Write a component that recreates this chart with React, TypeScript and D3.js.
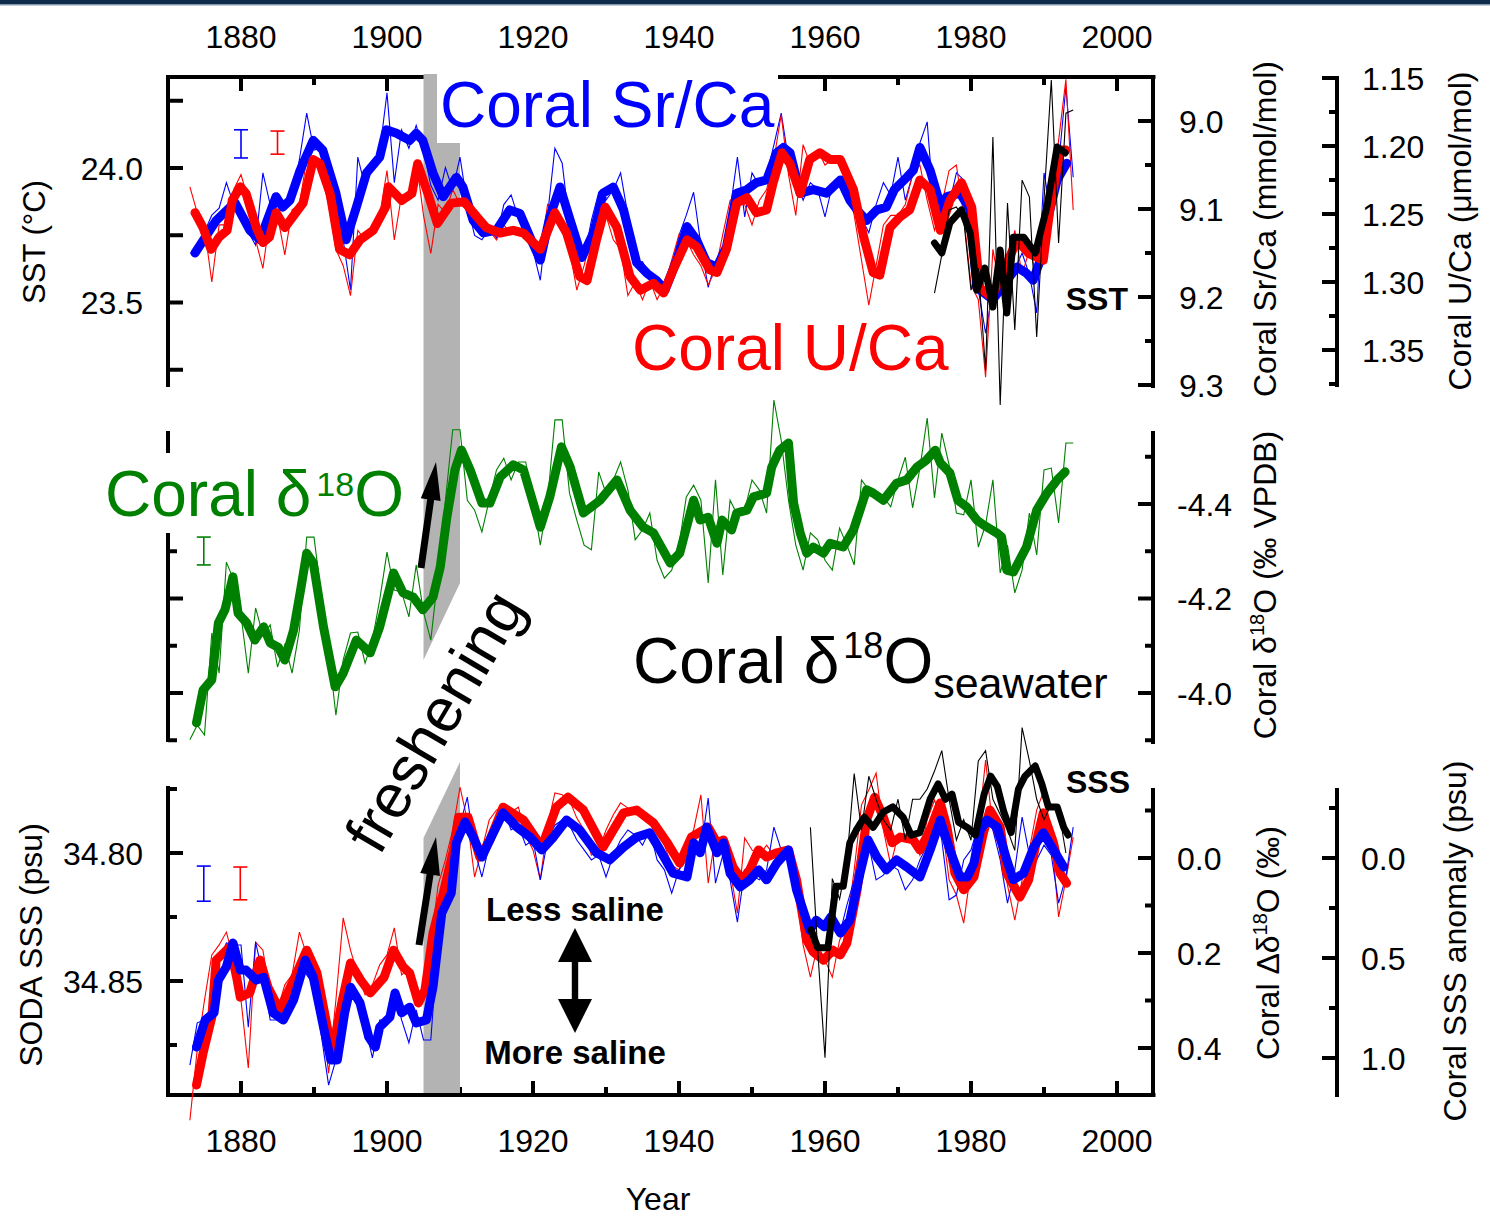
import React from "react";
import * as d3 from "d3";

const FONT = "'Liberation Sans', Arial, Helvetica, sans-serif";
const BLUE = "#0000ff";
const RED = "#ff0000";
const GREEN = "#008000";
const GRAY = "#b3b3b3";

// ---------------- tick values ----------------
const yearLabels = [1880, 1900, 1920, 1940, 1960, 1980, 2000];
const yearMinor = [1890, 1910, 1930, 1950, 1970, 1990];
const sstMajor = [24.0, 23.5];
const sstMinor = [24.25, 23.75, 23.25];
const srcaMajor = [9.0, 9.1, 9.2, 9.3];
const srcaMinor = [9.05, 9.15, 9.25];
const ucaMajor = [1.15, 1.2, 1.25, 1.3, 1.35];
const ucaMinor = [1.175, 1.225, 1.275, 1.325, 1.375];
const d18oMajor = [-4.4, -4.2, -4.0];
const d18oMinor = [-4.5, -4.3, -4.1, -3.9];
const d18oLeftMajor = [-4.2, -4.0];
const d18oLeftMinor = [-4.3, -4.1, -3.9];
const sodaMajor = [34.8, 34.85];
const sodaMinor = [34.775, 34.825, 34.875];
const dd18oMajor = [0.0, 0.2, 0.4];
const dd18oMinor = [-0.1, 0.1, 0.3];
const sssaMajor = [0.0, 0.5, 1.0];
const sssaMinor = [-0.25, 0.25, 0.75];

// ---------------- annual (thin) series ----------------
const THIN_START = 1873;
const srcaThin = [
  9.150, 9.150, 9.126, 9.107, 9.099, 9.070, 9.095, 9.110, 9.126, 9.141,
  9.059, 9.095, 9.082, 9.101, 9.084, 9.044, 8.991, 9.033, 9.031, 9.065,
  9.101, 9.135, 9.192, 9.041, 9.075, 9.047, 9.035, 8.968, 9.070, 9.010,
  9.031, 9.005, 9.033, 9.073, 9.090, 9.053, 9.078, 9.041, 9.095, 9.130,
  9.135, 9.122, 9.133, 9.095, 9.084, 9.110, 9.122, 9.147, 9.181, 9.107,
  9.031, 9.048, 9.118, 9.156, 9.156, 9.113, 9.081, 9.090, 9.078, 9.059,
  9.107, 9.164, 9.160, 9.175, 9.186, 9.195, 9.169, 9.130, 9.107, 9.081,
  9.141, 9.189, 9.160, 9.152, 9.101, 9.041, 9.109, 9.059, 9.073, 9.061,
  9.027, 8.991, 9.044, 9.067, 9.090, 9.070, 9.078, 9.109, 9.073, 9.067,
  9.078, 9.095, 9.110, 9.127, 9.095, 9.070, 9.084, 9.041, 9.090, 9.061,
  9.025, 9.001, 9.109, 9.084, 9.095, 9.059, 9.067, 9.107, 9.192, 9.241,
  9.192, 9.198, 9.186, 9.169, 9.150, 9.175, 9.218, 9.059, 9.107, 9.050,
  8.961, 9.064,
];
const ucaThin = [
  1.230, 1.249, 1.260, 1.300, 1.258, 1.258, 1.232, 1.221, 1.240, 1.269,
  1.290, 1.251, 1.251, 1.280, 1.247, 1.243, 1.210, 1.210, 1.221, 1.243,
  1.276, 1.288, 1.310, 1.262, 1.269, 1.258, 1.251, 1.218, 1.269, 1.236,
  1.240, 1.210, 1.251, 1.279, 1.243, 1.249, 1.232, 1.243, 1.247, 1.254,
  1.260, 1.262, 1.269, 1.258, 1.265, 1.260, 1.269, 1.276, 1.280, 1.243,
  1.246, 1.258, 1.276, 1.306, 1.288, 1.265, 1.240, 1.251, 1.269, 1.276,
  1.310, 1.300, 1.313, 1.299, 1.313, 1.302, 1.284, 1.265, 1.269, 1.280,
  1.288, 1.302, 1.291, 1.265, 1.240, 1.236, 1.243, 1.258, 1.240, 1.232,
  1.210, 1.177, 1.221, 1.251, 1.199, 1.214, 1.203, 1.214, 1.210, 1.214,
  1.229, 1.251, 1.284, 1.317, 1.288, 1.258, 1.251, 1.251, 1.243, 1.221,
  1.214, 1.240, 1.262, 1.243, 1.218, 1.214, 1.251, 1.302, 1.313, 1.370,
  1.276, 1.306, 1.291, 1.262, 1.295, 1.276, 1.295, 1.269, 1.240, 1.196,
  1.151, 1.247,
];
const SST_THIN_START = 1975;
const sstThin = [
  23.535, 23.677, 23.844, 23.855, 23.807, 23.546, 23.628, 23.249, 24.115, 23.119,
  23.870, 23.398, 23.955, 23.892, 23.372, 23.881, 24.327, 23.721, 24.204, 24.216,
];
const d18oThin = [
  -3.901, -3.932, -3.911, -4.127, -4.042, -4.277, -4.239, -4.165, -4.042, -4.180,
  -4.123, -4.144, -4.055, -4.102, -4.042, -4.133, -4.330, -4.330, -4.207, -4.091,
  -3.953, -4.070, -4.127, -4.129, -4.063, -4.112, -4.197, -4.298, -4.218, -4.214,
  -4.161, -4.271, -4.171, -4.112, -4.250, -4.408, -4.557, -4.557, -4.408, -4.387,
  -4.341, -4.408, -4.472, -4.497, -4.451, -4.489, -4.489, -4.408, -4.313, -4.408,
  -4.578, -4.578, -4.423, -4.366, -4.313, -4.303, -4.468, -4.423, -4.451, -4.489,
  -4.430, -4.324, -4.345, -4.381, -4.281, -4.243, -4.260, -4.313, -4.415, -4.440,
  -4.408, -4.233, -4.451, -4.250, -4.408, -4.377, -4.387, -4.451, -4.430, -4.381,
  -4.620, -4.535, -4.408, -4.313, -4.260, -4.339, -4.324, -4.281, -4.260, -4.349,
  -4.313, -4.271, -4.451, -4.430, -4.415, -4.415, -4.394, -4.451, -4.499, -4.392,
  -4.476, -4.582, -4.413, -4.550, -4.483, -4.381, -4.377, -4.451, -4.309, -4.356,
  -4.451, -4.254, -4.313, -4.212, -4.260, -4.381, -4.292, -4.472, -4.476, -4.360,
  -4.529, -4.529,
];
const dd18oSrThin = [
  0.436, 0.347, 0.341, 0.320, 0.215, 0.179, 0.183, 0.183, 0.356, 0.177,
  0.246, 0.341, 0.341, 0.341, 0.288, 0.215, 0.246, 0.267, 0.373, 0.478,
  0.425, 0.278, 0.288, 0.299, 0.352, 0.421, 0.341, 0.341, 0.278, 0.341,
  0.389, 0.320, 0.383, 0.383, 0.173, 0.046, 0.004, -0.069, -0.128, -0.017,
  0.040, -0.027, -0.091, -0.101, -0.059, -0.069, -0.027, -0.038, 0.046, -0.038,
  -0.069, -0.080, -0.069, -0.038, -0.017, 0.004, -0.006, 0.040, -0.006, -0.038,
  -0.059, -0.048, -0.027, -0.059, 0.004, 0.025, 0.074, 0.025, 0.004, -0.027,
  -0.017, -0.126, 0.053, -0.006, 0.046, 0.135, 0.025, 0.036, 0.046, 0.025,
  -0.065, -0.017, -0.006, 0.078, 0.099, 0.173, 0.131, 0.141, 0.099, 0.162,
  0.099, 0.046, -0.048, -0.027, 0.046, 0.036, 0.015, 0.025, 0.067, 0.046,
  0.004, -0.027, -0.091, -0.038, 0.088, 0.078, 0.004, -0.017, -0.069, -0.091,
  -0.059, 0.004, 0.095, 0.025, -0.086, -0.006, 0.004, -0.027, -0.006, 0.095,
  0.040, -0.065,
];
const dd18oUThin = [
  0.552, 0.404, 0.299, 0.204, 0.183, 0.156, 0.215, 0.299, 0.442, 0.177,
  0.194, 0.288, 0.320, 0.267, 0.246, 0.156, 0.204, 0.246, 0.320, 0.453,
  0.299, 0.126, 0.194, 0.246, 0.288, 0.267, 0.225, 0.204, 0.147, 0.246,
  0.232, 0.299, 0.288, 0.183, 0.057, 0.004, -0.059, -0.149, -0.080, 0.040,
  -0.017, -0.080, -0.101, -0.112, -0.097, -0.107, -0.048, -0.017, 0.046, -0.069,
  -0.137, -0.133, -0.122, -0.084, -0.059, -0.006, -0.017, -0.059, -0.091, -0.116,
  -0.105, -0.091, -0.091, -0.080, -0.059, -0.027, 0.015, 0.025, -0.027, -0.059,
  -0.133, 0.053, -0.048, -0.032, 0.025, 0.116, -0.042, -0.017, -0.006, -0.027,
  -0.006, -0.017, 0.004, 0.067, 0.183, 0.251, 0.183, 0.215, 0.251, 0.173,
  0.141, 0.025, -0.112, -0.143, -0.179, -0.059, 0.015, -0.048, -0.038, -0.048,
  -0.006, -0.080, -0.122, -0.074, 0.046, 0.078, 0.137, 0.025, -0.059, -0.206,
  -0.059, -0.017, 0.057, 0.131, 0.046, -0.017, -0.101, -0.143, -0.048, 0.124,
  0.046, -0.044,
];
const SODA_THIN_START = 1958;
const sodaThin = [
  34.790, 34.838, 34.880, 34.810, 34.818, 34.803, 34.769, 34.791, 34.770, 34.779,
  34.787, 34.791, 34.779, 34.795, 34.779, 34.779, 34.775, 34.768, 34.760, 34.779,
  34.795, 34.787, 34.795, 34.764, 34.760, 34.779, 34.785, 34.791, 34.799, 34.751,
  34.764, 34.779, 34.787, 34.781, 34.783, 34.800,
];

// ---------------- smoothed (thick) series: [year, value] ----------------
const srcaThick = [
  [1873.7, 9.150], [1876.6, 9.113], [1878.5, 9.098], [1879.2, 9.093], [1881.2, 9.124], [1882.6, 9.135],
  [1884.8, 9.086], [1885.7, 9.098], [1886.7, 9.090], [1888.1, 9.056], [1889.9, 9.022], [1891.2, 9.033],
  [1893, 9.082], [1894.4, 9.135], [1895.8, 9.098], [1897.2, 9.059], [1899, 9.041], [1899.9, 9.010],
  [1901.3, 9.014], [1903.1, 9.022], [1904, 9.014], [1904.9, 9.022], [1906.3, 9.059], [1907.7, 9.086],
  [1909.5, 9.064], [1910.4, 9.075], [1911.8, 9.113], [1913.2, 9.127], [1915, 9.124], [1916.8, 9.101],
  [1918.2, 9.105], [1919.6, 9.132], [1921, 9.158], [1922.3, 9.109], [1923.7, 9.075], [1925.1, 9.113],
  [1926.7, 9.155], [1928.3, 9.127], [1929.6, 9.082], [1931, 9.075], [1932.4, 9.101], [1934.2, 9.161],
  [1935.6, 9.173], [1936.9, 9.181], [1938.1, 9.192], [1939.7, 9.158], [1941.1, 9.120], [1942.4, 9.135],
  [1943.8, 9.161], [1945.2, 9.166], [1946.5, 9.143], [1947.9, 9.082], [1949.3, 9.078], [1950.6, 9.070],
  [1952, 9.067], [1953.4, 9.036], [1954.3, 9.030], [1955.2, 9.036], [1956.6, 9.082], [1958.4, 9.078],
  [1960.2, 9.082], [1962.1, 9.067], [1963.4, 9.090], [1964.8, 9.105], [1965.7, 9.113], [1967.1, 9.101],
  [1968.4, 9.098], [1969.5, 9.078], [1971.2, 9.064], [1972.1, 9.056], [1973, 9.030], [1974.4, 9.056],
  [1976, 9.101], [1976.7, 9.086], [1978.5, 9.082], [1979.9, 9.101], [1980.8, 9.189], [1983, 9.203],
  [1984.9, 9.181], [1986.3, 9.166], [1987.6, 9.173], [1988.5, 9.181], [1989.5, 9.158], [1990.8, 9.101],
  [1991.8, 9.067], [1993.1, 9.048],
];
const ucaThick = [
  [1873.7, 1.249], [1874.8, 1.260], [1875.9, 1.276], [1877, 1.267], [1878.1, 1.262], [1878.8, 1.240],
  [1879.9, 1.230], [1880.7, 1.235], [1882.1, 1.260], [1883, 1.271], [1883.9, 1.267], [1884.8, 1.249],
  [1886, 1.260], [1887.1, 1.252], [1888.5, 1.242], [1889.9, 1.210], [1890.8, 1.213], [1892.2, 1.235],
  [1893.5, 1.276], [1894.9, 1.280], [1896.3, 1.269], [1898.1, 1.262], [1899.8, 1.245], [1900.2, 1.230],
  [1902, 1.240], [1903.4, 1.235], [1904.2, 1.213], [1905.6, 1.235], [1906.9, 1.257], [1908.8, 1.242],
  [1910.6, 1.241], [1912.3, 1.252], [1913.6, 1.260], [1915.5, 1.264], [1917.3, 1.262], [1918.7, 1.264],
  [1921, 1.276], [1923, 1.249], [1924.6, 1.264], [1926.4, 1.296], [1927.4, 1.299], [1928.7, 1.269],
  [1929.9, 1.245], [1931.5, 1.260], [1933.3, 1.296], [1934.7, 1.306], [1936.5, 1.301], [1937.9, 1.308],
  [1939.2, 1.291], [1941.1, 1.269], [1942.4, 1.274], [1944.2, 1.291], [1945.2, 1.293], [1946.5, 1.276],
  [1947.9, 1.242], [1949.3, 1.238], [1950.6, 1.249], [1952, 1.247], [1952.9, 1.227], [1954.1, 1.205],
  [1955.2, 1.213], [1956.6, 1.235], [1957.9, 1.210], [1959.3, 1.205], [1960.7, 1.210], [1962.1, 1.210],
  [1963.9, 1.232], [1965.3, 1.267], [1966.6, 1.293], [1967.5, 1.295], [1968.9, 1.260], [1970.3, 1.252],
  [1971.6, 1.247], [1973, 1.225], [1974.4, 1.232], [1975.8, 1.262], [1977.1, 1.240], [1978.7, 1.227],
  [1980.1, 1.245], [1981.2, 1.304], [1982.8, 1.311], [1984.4, 1.293], [1986.3, 1.269], [1987.9, 1.279],
  [1989.9, 1.284], [1990.8, 1.247], [1992.2, 1.203], [1993, 1.203],
];
const sstThick = [
  [1975, 23.721], [1976, 23.684], [1977.1, 23.796], [1978.7, 23.844], [1979.9, 23.758], [1980.8, 23.546],
  [1981.9, 23.628], [1983, 23.483], [1984, 23.695], [1984.9, 23.461], [1985.8, 23.743], [1987.2, 23.743],
  [1988.8, 23.684], [1990.4, 23.855], [1991.8, 24.078], [1992.9, 24.056],
];
const d18oThick = [
  [1873.9, -3.937], [1874.8, -4.006], [1876, -4.028], [1876.9, -4.148], [1877.8, -4.176], [1878.9, -4.246],
  [1879.6, -4.169], [1880.8, -4.148], [1881.9, -4.112], [1883.1, -4.140], [1884, -4.106], [1885.1, -4.097],
  [1886, -4.070], [1887.2, -4.133], [1888.1, -4.212], [1889, -4.296], [1889.9, -4.275], [1891.3, -4.140],
  [1892.9, -4.013], [1894, -4.042], [1895.8, -4.112], [1897.7, -4.085], [1899, -4.140], [1900.9, -4.254],
  [1902.2, -4.212], [1903.6, -4.203], [1904.9, -4.176], [1906.3, -4.203], [1907.3, -4.267], [1908.2, -4.372],
  [1909.3, -4.472], [1910.2, -4.514], [1911.4, -4.472], [1913, -4.402], [1914.1, -4.402], [1915.5, -4.457],
  [1917.3, -4.483], [1918.7, -4.472], [1921, -4.351], [1922.3, -4.415], [1923.9, -4.521], [1925.1, -4.478],
  [1926.9, -4.381], [1929.2, -4.408], [1931.5, -4.451], [1933.3, -4.387], [1935.1, -4.351], [1936.5, -4.339],
  [1938.8, -4.275], [1940.1, -4.296], [1942, -4.408], [1942.9, -4.366], [1944, -4.372], [1945.2, -4.317],
  [1945.9, -4.366], [1947.2, -4.345], [1947.9, -4.381], [1949.3, -4.387], [1950.2, -4.415], [1952, -4.423],
  [1952.7, -4.478], [1953.8, -4.514], [1955, -4.529], [1955.7, -4.402], [1956.6, -4.339], [1957.5, -4.296],
  [1958.4, -4.309], [1959.8, -4.296], [1960.7, -4.317], [1962.5, -4.309], [1963.9, -4.345], [1965.7, -4.430],
  [1966.6, -4.423], [1968, -4.408], [1969.8, -4.444], [1971.2, -4.451], [1972.6, -4.478], [1973.9, -4.493],
  [1975.1, -4.514], [1975.8, -4.487], [1977.1, -4.466], [1978.2, -4.408], [1979.4, -4.394], [1980.8, -4.366],
  [1981.7, -4.356], [1983.5, -4.339], [1984.2, -4.330], [1984.9, -4.260], [1985.8, -4.256], [1987.6, -4.309],
  [1989, -4.387], [1990.4, -4.423], [1991.8, -4.451], [1992.9, -4.468],
];
const dd18oSrThick = [
  [1873.9, 0.398], [1875.1, 0.341], [1876.3, 0.326], [1876.9, 0.257], [1878, 0.229], [1878.9, 0.179],
  [1879.9, 0.236], [1880.7, 0.236], [1882.1, 0.257], [1883.1, 0.251], [1884.4, 0.326], [1885.8, 0.341],
  [1887.2, 0.299], [1888.8, 0.215], [1889.9, 0.251], [1891.3, 0.356], [1892.3, 0.425], [1893.2, 0.425],
  [1894.2, 0.326], [1895, 0.272], [1896.3, 0.305], [1897.5, 0.377], [1898.4, 0.398], [1899, 0.356],
  [1900.4, 0.335], [1901.1, 0.284], [1902, 0.326], [1903.1, 0.314], [1904, 0.347], [1905.4, 0.341],
  [1906.3, 0.272], [1907.5, 0.116], [1908.8, 0.074], [1909.5, -0.032], [1910.7, -0.076], [1911.8, -0.044],
  [1913, -0.002], [1914.1, -0.038], [1915.9, -0.095], [1917.8, -0.065], [1919.6, -0.044], [1921.2, -0.017],
  [1922.8, -0.044], [1924.6, -0.080], [1926.4, -0.059], [1928.7, -0.011], [1930.5, 0.004], [1932.4, -0.023],
  [1934.2, -0.044], [1936, -0.053], [1937.4, -0.017], [1939.2, 0.032], [1941.1, 0.040], [1942, -0.032],
  [1942.9, -0.011], [1943.8, -0.065], [1945.2, -0.011], [1946.1, -0.032], [1947, 0.032], [1948.4, 0.061],
  [1949.7, 0.046], [1950.9, 0.025], [1952, 0.046], [1953.4, 0.011], [1955, -0.017], [1956.1, 0.067],
  [1957.9, 0.152], [1958.8, 0.131], [1959.9, 0.145], [1960.8, 0.124], [1962.1, 0.158], [1963.4, 0.131],
  [1964.8, 0.032], [1965.9, -0.038], [1967.1, -0.002], [1968.4, 0.025], [1969.8, 0.004], [1971.2, 0.019],
  [1973, 0.040], [1974.4, -0.017], [1975.8, -0.080], [1977.1, -0.017], [1978.5, 0.040], [1979.5, 0.040],
  [1980.4, 0.011], [1981.3, -0.059], [1982.2, -0.080], [1983.6, -0.065], [1984.9, 0.004], [1985.8, 0.046],
  [1987.2, 0.032], [1988.6, -0.023], [1989.9, -0.053], [1991.3, -0.017], [1992.7, 0.019],
];
const dd18oUThick = [
  [1873.9, 0.478], [1874.8, 0.411], [1876, 0.335], [1876.6, 0.215], [1878.5, 0.187], [1879.4, 0.251],
  [1879.9, 0.293], [1881.2, 0.284], [1882.6, 0.215], [1883.7, 0.272], [1885.3, 0.320], [1887.2, 0.257],
  [1889, 0.194], [1890.4, 0.242], [1892.5, 0.411], [1893.8, 0.305], [1895, 0.221], [1896.4, 0.257],
  [1897.7, 0.284], [1899.6, 0.251], [1900.9, 0.194], [1902.2, 0.229], [1903.1, 0.242], [1904.3, 0.305],
  [1905.2, 0.278], [1906.3, 0.158], [1907.7, 0.074], [1909.1, -0.017], [1909.8, -0.086], [1911.1, -0.086],
  [1912.7, -0.002], [1914.1, -0.038], [1915.9, -0.107], [1918.7, -0.080], [1921.2, -0.023], [1923.2, -0.107],
  [1924.8, -0.128], [1926.9, -0.101], [1929.6, -0.023], [1932.4, -0.095], [1934.2, -0.101], [1936.5, -0.074],
  [1938.4, -0.032], [1940.1, 0.011], [1941.7, -0.044], [1944, -0.065], [1945.2, -0.032], [1946.1, -0.038],
  [1947.4, 0.019], [1948.6, 0.046], [1949.7, 0.025], [1950.9, -0.017], [1952, -0.002], [1953.4, -0.011],
  [1955, -0.017], [1956.1, 0.046], [1957.5, 0.173], [1958.4, 0.198], [1959.8, 0.215], [1961.1, 0.194],
  [1962.1, 0.204], [1963, 0.179], [1964.4, 0.067], [1965.7, -0.080], [1966.8, -0.128], [1968, -0.086],
  [1969.2, -0.032], [1970.3, -0.044], [1972.1, -0.038], [1973, -0.017], [1974.4, -0.059], [1975.8, -0.116],
  [1976.7, -0.065], [1977.8, 0.032], [1979, 0.067], [1980.4, 0.040], [1981.7, -0.053], [1982.6, -0.101],
  [1984, -0.065], [1984.9, 0.032], [1986.7, 0.082], [1987.9, 0.046], [1989, -0.038], [1989.9, -0.095],
  [1991.3, -0.032], [1992.2, 0.032], [1993.1, 0.053],
];
const sodaThick = [
  [1958.1, 34.830], [1959, 34.837], [1960.4, 34.837], [1961.5, 34.813], [1962.5, 34.813], [1963.4, 34.796],
  [1964.3, 34.791], [1965.4, 34.786], [1966.6, 34.790], [1968, 34.784], [1969.3, 34.782], [1970.7, 34.786],
  [1971.8, 34.793], [1973, 34.792], [1974.4, 34.779], [1975.5, 34.773], [1976.5, 34.779], [1977.4, 34.777],
  [1978.3, 34.788], [1979.5, 34.790], [1980.6, 34.793], [1981.8, 34.777], [1982.7, 34.770], [1983.6, 34.774],
  [1984.5, 34.784], [1985.5, 34.792], [1986.5, 34.775], [1987.4, 34.770], [1988.8, 34.766], [1989.7, 34.773],
  [1990.6, 34.782], [1991.8, 34.782], [1992.7, 34.790], [1993.3, 34.793],
];

function arrowPoints(x1, y1, x2, y2, headLen, headHalf, shaftHalf) {
  const dx = x2 - x1, dy = y2 - y1;
  const L = Math.hypot(dx, dy);
  const ux = dx / L, uy = dy / L, px = -uy, py = ux;
  const bx = x2 - ux * headLen, by = y2 - uy * headLen;
  const pts = [
    [x1 + px * shaftHalf, y1 + py * shaftHalf],
    [bx + px * shaftHalf, by + py * shaftHalf],
    [bx + px * headHalf, by + py * headHalf],
    [x2, y2],
    [bx - px * headHalf, by - py * headHalf],
    [bx - px * shaftHalf, by - py * shaftHalf],
    [x1 - px * shaftHalf, y1 - py * shaftHalf],
  ];
  return pts.map((p) => p.join(",")).join(" ");
}

function doubleArrowPoints(cx, yTop, yBot, headLen, headHalf, shaftHalf) {
  const pts = [
    [cx, yTop],
    [cx + headHalf, yTop + headLen],
    [cx + shaftHalf, yTop + headLen],
    [cx + shaftHalf, yBot - headLen],
    [cx + headHalf, yBot - headLen],
    [cx, yBot],
    [cx - headHalf, yBot - headLen],
    [cx - shaftHalf, yBot - headLen],
    [cx - shaftHalf, yTop + headLen],
    [cx - headHalf, yTop + headLen],
  ];
  return pts.map((p) => p.join(",")).join(" ");
}

export default function App() {
  const x = d3.scaleLinear().domain([1870, 2005]).range([168, 1153.5]);
  const ySST = d3.scaleLinear().domain([24, 23.5]).range([168, 302.5]);
  const ySr = d3.scaleLinear().domain([9.0, 9.2]).range([121, 297]);
  const yU = d3.scaleLinear().domain([1.2, 1.3]).range([146, 282]);
  const yD18 = d3.scaleLinear().domain([-4.4, -4.0]).range([504, 693]);
  const ySODA = d3.scaleLinear().domain([34.8, 34.85]).range([853, 981]);
  const yDD = d3.scaleLinear().domain([0, 0.4]).range([858, 1048]);
  const ySSSA = d3.scaleLinear().domain([0, 1]).range([858, 1058]);

  const pairPath = (data, sy) =>
    d3.line().x((d) => x(d[0])).y((d) => sy(d[1]))(data);
  const annualPath = (vals, start, sy) =>
    d3.line().x((d, i) => x(start + i)).y((d) => sy(d))(vals);

  const AX = 4;
  const vTicks = (x0, scale, vals, len, dir, keyp) =>
    vals.map((v) => (
      <line key={keyp + v} x1={x0} x2={x0 + dir * len} y1={scale(v)} y2={scale(v)} stroke="#000" strokeWidth={AX} />
    ));
  const vLabels = (lx, scale, vals, anchor, fmt, keyp) =>
    vals.map((v) => (
      <text key={keyp + v} x={lx} y={scale(v)} dy="0.36em" textAnchor={anchor} fontSize={32}>
        {fmt(v)}
      </text>
    ));
  const vLine = (x0, y0, y1, key) => (
    <line key={key} x1={x0} x2={x0} y1={y0} y2={y1} stroke="#000" strokeWidth={AX} strokeLinecap="square" />
  );
  const hTicks = (y0, vals, len, dir, keyp) =>
    vals.map((v) => (
      <line key={keyp + v} x1={x(v)} x2={x(v)} y1={y0} y2={y0 + dir * len} stroke="#000" strokeWidth={AX} />
    ));

  const f1 = (v) => v.toFixed(1);
  const f2 = (v) => v.toFixed(2);

  const thin = { fill: "none", strokeWidth: 1.1, strokeLinejoin: "miter" };
  const thick = { fill: "none", strokeWidth: 9, strokeLinejoin: "round", strokeLinecap: "round" };

  const errBar = (cx, y1, y2, color, key) => (
    <g key={key} stroke={color} strokeWidth={1.6}>
      <line x1={cx} x2={cx} y1={y1} y2={y2} />
      <line x1={cx - 7} x2={cx + 7} y1={y1} y2={y1} />
      <line x1={cx - 7} x2={cx + 7} y1={y2} y2={y2} />
    </g>
  );

  const x1905 = x(1905), x1910 = x(1910);

  return (
    <svg
      width={1490}
      height={1217}
      viewBox="0 0 1490 1217"
      style={{ position: "absolute", left: 0, top: 0, background: "#fff" }}
      fontFamily={FONT}
    >
      <rect x={0} y={0} width={1490} height={1217} fill="#fff" />
      {/* top banner */}
      <rect x={0} y={0} width={1490} height={4} fill="#0f2b4c" />
      <rect x={0} y={4} width={1490} height={1.5} fill="#8397ad" />

      {/* ---------- axes ---------- */}
      <line x1={168} x2={1153.5} y1={77} y2={77} stroke="#000" strokeWidth={AX} strokeLinecap="square" />
      {hTicks(77, yearLabels, 14, 1, "tM")}
      {hTicks(77, yearMinor, 8, 1, "tm")}
      {yearLabels.map((v) => (
        <text key={"ty" + v} x={x(v)} y={48} textAnchor="middle" fontSize={32}>
          {v}
        </text>
      ))}
      <line x1={168} x2={1153.5} y1={1095} y2={1095} stroke="#000" strokeWidth={AX} strokeLinecap="square" />
      {hTicks(1095, yearLabels, 14, -1, "bM")}
      {hTicks(1095, yearMinor, 8, -1, "bm")}
      {yearLabels.map((v) => (
        <text key={"by" + v} x={x(v)} y={1152} textAnchor="middle" fontSize={32}>
          {v}
        </text>
      ))}
      <text x={658} y={1210} textAnchor="middle" fontSize={32}>Year</text>

      {/* panel 1 left SST */}
      {vLine(168, 77, 385, "p1l")}
      {vTicks(168, ySST, sstMajor, 15, 1, "sM")}
      {vTicks(168, ySST, sstMinor, 15, 1, "sm")}
      {vLabels(143, ySST, sstMajor, "end", f1, "sL")}
      <text transform="translate(45,242) rotate(-90)" textAnchor="middle" fontSize={31}>SST (°C)</text>

      {/* panel 1 right Sr/Ca */}
      {vLine(1153, 77, 386, "p1r")}
      {vTicks(1153, ySr, srcaMajor, 15, -1, "rM")}
      {vTicks(1153, ySr, srcaMinor, 8, -1, "rm")}
      {vLabels(1179, ySr, srcaMajor, "start", f1, "rL")}
      <text transform="translate(1276,229) rotate(-90)" textAnchor="middle" fontSize={32}>Coral Sr/Ca (mmol/mol)</text>

      {/* panel 1 far right U/Ca */}
      {vLine(1337, 78, 385, "p1u")}
      {vTicks(1337, yU, ucaMajor, 15, -1, "uM")}
      {vTicks(1337, yU, ucaMinor, 8, -1, "um")}
      {vLabels(1362, yU, ucaMajor, "start", f2, "uL")}
      <text transform="translate(1471,231) rotate(-90)" textAnchor="middle" fontSize={32}>Coral U/Ca (μmol/mol)</text>

      {/* panel 2 left */}
      {vLine(168, 433, 740, "p2l")}
      {vTicks(168, yD18, d18oLeftMajor, 15, 1, "dlM")}
      {vTicks(168, yD18, d18oLeftMinor, 9, 1, "dlm")}
      {/* panel 2 right */}
      {vLine(1153, 433, 742, "p2r")}
      {vTicks(1153, yD18, d18oMajor, 15, -1, "dM")}
      {vTicks(1153, yD18, d18oMinor, 8, -1, "dm")}
      {vLabels(1177, yD18, d18oMajor, "start", f1, "dL")}
      <text transform="translate(1276,585) rotate(-90)" textAnchor="middle" fontSize={32}>
        Coral δ<tspan fontSize={20} dy={-12}>18</tspan>
        <tspan dy={12}>O (‰ VPDB)</tspan>
      </text>

      {/* panel 3 left SODA */}
      {vLine(168, 788, 1095, "p3l")}
      {vTicks(168, ySODA, sodaMajor, 15, 1, "oM")}
      {vTicks(168, ySODA, sodaMinor, 9, 1, "om")}
      {vLabels(143, ySODA, sodaMajor, "end", f2, "oL")}
      <text transform="translate(42,945) rotate(-90)" textAnchor="middle" fontSize={32}>SODA SSS (psu)</text>

      {/* panel 3 right Δδ18O */}
      {vLine(1153, 790, 1095, "p3r")}
      {vTicks(1153, yDD, dd18oMajor, 15, -1, "eM")}
      {vTicks(1153, yDD, dd18oMinor, 8, -1, "em")}
      {vLabels(1177, yDD, dd18oMajor, "start", f1, "eL")}
      <text transform="translate(1279,943) rotate(-90)" textAnchor="middle" fontSize={32}>
        Coral Δδ<tspan fontSize={20} dy={-12}>18</tspan>
        <tspan dy={12}>O (‰)</tspan>
      </text>

      {/* panel 3 far right SSS anomaly */}
      {vLine(1337, 790, 1095, "p3a")}
      {vTicks(1337, ySSSA, sssaMajor, 15, -1, "aM")}
      {vTicks(1337, ySSSA, sssaMinor, 8, -1, "am")}
      {vLabels(1361, ySSSA, sssaMajor, "start", f1, "aL")}
      <text transform="translate(1466,941) rotate(-90)" textAnchor="middle" fontSize={32}>Coral SSS anomaly (psu)</text>

      {/* ---------- gray band 1905-1910 ---------- */}
      <polygon points={`${x1905},74 ${x1910},74 ${x1910},583 ${x1905},660`} fill={GRAY} />
      <polygon points={`${x1905},838 ${x1910},762 ${x1910},1093 ${x1905},1093`} fill={GRAY} />

      {/* label background boxes */}
      <rect x={437} y={70} width={341} height={73} fill="#fff" />
      <rect x={100} y={453} width={305} height={80} fill="#fff" />

      {/* ---------- panel 1 series ---------- */}
      <path d={annualPath(srcaThin, THIN_START, ySr)} stroke={BLUE} {...thin} />
      <path d={annualPath(ucaThin, THIN_START, yU)} stroke={RED} {...thin} />
      <path d={pairPath(srcaThick, ySr)} stroke={BLUE} {...thick} />
      <path d={pairPath(ucaThick, yU)} stroke={RED} {...thick} />
      <path d={annualPath(sstThin, SST_THIN_START, ySST)} stroke="#000" {...thin} />
      <path d={pairPath(sstThick, ySST)} stroke="#000" {...thick} strokeWidth={7} />

      {/* ---------- panel 2 series ---------- */}
      <path d={annualPath(d18oThin, THIN_START, yD18)} stroke={GREEN} {...thin} />
      <path d={pairPath(d18oThick, yD18)} stroke={GREEN} {...thick} />

      {/* ---------- panel 3 series ---------- */}
      <path d={annualPath(dd18oUThin, THIN_START, yDD)} stroke={RED} {...thin} />
      <path d={annualPath(dd18oSrThin, THIN_START, yDD)} stroke={BLUE} {...thin} />
      <path d={pairPath(dd18oUThick, yDD)} stroke={RED} {...thick} />
      <path d={pairPath(dd18oSrThick, yDD)} stroke={BLUE} {...thick} />
      <path d={annualPath(sodaThin, SODA_THIN_START, ySODA)} stroke="#000" {...thin} />
      <path d={pairPath(sodaThick, ySODA)} stroke="#000" {...thick} strokeWidth={7} />

      {/* ---------- error bars ---------- */}
      {errBar(x(1880), ySr(9.010), ySr(9.042), BLUE, "e1")}
      {errBar(x(1885), yU(1.189), yU(1.206), RED, "e2")}
      {errBar(x(1874.9), yD18(-4.330), yD18(-4.271), GREEN, "e3")}
      {errBar(x(1874.9), yDD(0.017), yDD(0.091), BLUE, "e4")}
      {errBar(x(1879.9), yDD(0.019), yDD(0.088), RED, "e5")}

      {/* ---------- annotations ---------- */}
      <text x={440} y={127} fontSize={64} fill={BLUE}>Coral Sr/Ca</text>
      <text x={632} y={370} fontSize={64} fill={RED}>Coral U/Ca</text>
      <text x={1128} y={310} fontSize={32} fontWeight="bold" textAnchor="end">SST</text>
      <text x={105} y={516} fontSize={64} fill={GREEN}>
        Coral δ<tspan fontSize={34} dy={-20} dx={5}>18</tspan>
        <tspan dy={20}>O</tspan>
      </text>
      <text x={633} y={683} fontSize={64} fill="#000">
        Coral δ<tspan fontSize={36} dy={-25} dx={4}>18</tspan>
        <tspan dy={25}>O</tspan>
        <tspan fontSize={43} dy={15}>seawater</tspan>
      </text>
      <text transform="translate(453,732) rotate(-59.5)" textAnchor="middle" fontSize={62}>freshening</text>
      <text x={1130} y={793} fontSize={32} fontWeight="bold" textAnchor="end">SSS</text>
      <text x={575} y={921} fontSize={33} fontWeight="bold" textAnchor="middle">Less saline</text>
      <text x={575} y={1064} fontSize={33} fontWeight="bold" textAnchor="middle">More saline</text>

      <polygon points={arrowPoints(421, 568, 436, 462, 38, 10, 3.5)} fill="#000" />
      <polygon points={arrowPoints(419, 945, 436, 837, 38, 10, 3.5)} fill="#000" />
      <polygon points={doubleArrowPoints(575, 928, 1033, 34, 17, 3.2)} fill="#000" />
    </svg>
  );
}
